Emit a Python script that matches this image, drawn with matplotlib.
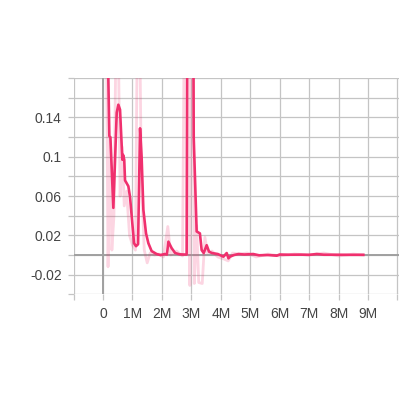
import matplotlib
matplotlib.use("Agg")
import matplotlib.pyplot as plt
from matplotlib.ticker import FixedLocator, FuncFormatter

plt.rcParams['font.family'] = ['Liberation Sans', 'DejaVu Sans']

# Smoothed series (steps in millions, value)
smooth_steps = [0.12, 0.18, 0.214, 0.25, 0.35, 0.465, 0.52, 0.577, 0.656, 0.68, 0.72,
                0.747, 0.86, 0.917, 0.975, 1.053, 1.12, 1.19, 1.257, 1.31, 1.37, 1.46,
                1.54, 1.65, 1.82, 1.95, 2.1, 2.17, 2.22, 2.33, 2.45, 2.6, 2.75, 2.84,
                2.87, 3.05, 3.08, 3.18, 3.29, 3.35, 3.42, 3.52, 3.6, 3.7, 3.9, 4.09,
                4.2, 4.26, 4.31, 4.45, 4.6, 4.8, 5.1, 5.3, 5.6, 5.9, 6.0, 6.3, 6.7,
                7.0, 7.26, 7.5, 7.9, 8.3, 8.84]
smooth_vals = [0.30, 0.18, 0.121, 0.12, 0.048, 0.145, 0.153, 0.148, 0.097, 0.102, 0.097,
               0.076, 0.07, 0.059, 0.039, 0.012, 0.009, 0.011, 0.129, 0.10, 0.046, 0.022,
               0.012, 0.004, 0.001, 0.0, 0.001, 0.0005, 0.0136, 0.007, 0.002, 0.0007, 0.0005, 0.0005,
               0.35, 0.40, 0.12, 0.024, 0.022, 0.005, 0.002, 0.010, 0.0034, 0.002, 0.001, -0.0017,
               0.002, -0.0034, -0.0017, 0.0, 0.001, 0.0005, 0.001, -0.0003, 0.0, -0.0007, 0.0005, 0.0003, 0.0004,
               0.0002, 0.001, 0.0003, 0.0003, 0.0002, 0.0002]

# Raw series
raw_steps = [0.10, 0.17, 0.23, 0.30, 0.37, 0.45, 0.52, 0.58, 0.65, 0.72, 0.80, 0.90,
             1.00, 1.10, 1.17, 1.25, 1.30, 1.40, 1.50, 1.60, 1.75, 1.90, 2.05, 2.20,
             2.30, 2.50, 2.70, 2.85, 2.95, 3.01, 3.10, 3.18, 3.25, 3.37, 3.46, 3.55,
             3.70, 3.90, 4.10, 4.25, 4.40, 4.60, 4.90, 5.20, 5.60, 6.00, 6.50, 7.00,
             7.50, 8.00, 8.50, 8.84]
raw_vals = [0.30, -0.012, 0.12, 0.005, 0.04, 0.25, 0.22, 0.06, 0.11, 0.05, 0.065, 0.02,
            0.01, 0.005, 0.25, 0.22, 0.08, 0.005, -0.008, 0.002, 0.0, 0.001, -0.002, 0.029,
            0.0, 0.004, -0.001, 0.6, -0.031, 0.5, -0.029, 0.03, -0.028, -0.029, 0.018, 0.002,
            0.004, -0.002, -0.004, -0.006, 0.002, 0.001, 0.002, -0.002, 0.001, -0.001, 0.001, 0.0,
            0.002, -0.001, 0.001, 0.0]

x_tick_labels = ['0', '1M', '2M', '3M', '4M', '5M', '6M', '7M', '8M', '9M']
y_tick_labels = ['0.14', '0.1', '0.06', '0.02', '-0.02']

line_color = '#f0306e'

fig = plt.figure(figsize=(4, 4), dpi=100)
ax = fig.add_axes([73.6 / 400, 1 - 294.3 / 400, (398.9 - 73.6) / 400, (294.3 - 78.2) / 400])

ax.plot(raw_steps, raw_vals, color=line_color, alpha=0.2, lw=2.0, zorder=3)
ax.plot(smooth_steps, smooth_vals, color=line_color, lw=1.9, zorder=4, solid_joinstyle='round')

ax.set_xlim(-1.0, 10.05)
ax.set_ylim(-0.04, 0.18)

for s in ax.spines.values():
    s.set_visible(False)

xt = list(range(-1, 11))
yt = [round(-0.04 + 0.02 * i, 2) for i in range(12)]
ax.xaxis.set_major_locator(FixedLocator(xt))
ax.yaxis.set_major_locator(FixedLocator(yt))

xlab = {i: x_tick_labels[i] for i in range(len(x_tick_labels))}
ax.xaxis.set_major_formatter(FuncFormatter(lambda v, p: xlab.get(int(round(v)), '')))
ylab = {float(t): t for t in y_tick_labels}
def yfmt(v, p):
    for k, t in ylab.items():
        if abs(v - k) < 1e-6:
            return t
    return ''
ax.yaxis.set_major_formatter(FuncFormatter(yfmt))

ax.grid(True, color='#c4c4c4', lw=0.9, zorder=0)
ax.tick_params(axis='both', which='major', color='#c4c4c4', length=4.5, width=0.9,
               labelsize=10, labelcolor='#444444')
ax.tick_params(axis='x', pad=5)
ax.tick_params(axis='y', pad=4)

ax.axhline(0, color='#a0a0a0', lw=1.4, zorder=2)
ax.axvline(0, color='#a0a0a0', lw=1.4, zorder=2)

fig.savefig('out.png', dpi=100)
